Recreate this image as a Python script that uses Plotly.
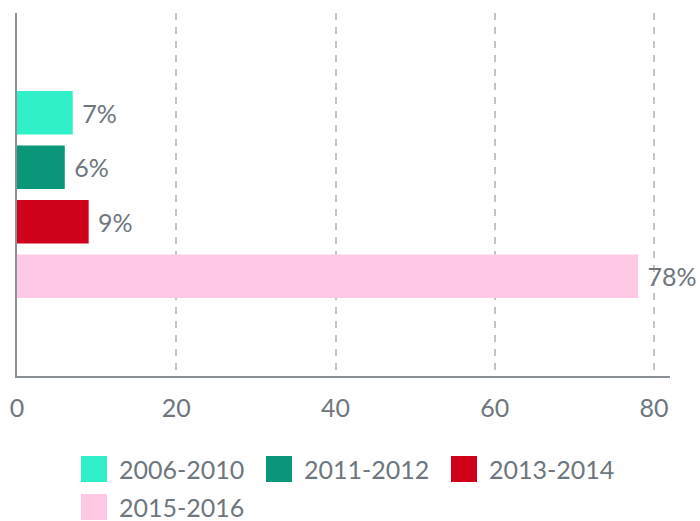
import plotly.graph_objects as go

# ---- data ----
periods = ["2006-2010", "2011-2012", "2013-2014", "2015-2016"]
shares = [7, 6, 9, 78]
category = ["Share"]
x_ticks = [0, 20, 40, 60, 80]
x_tick_labels = ["0", "20", "40", "60", "80"]

colors = ["#30F0CA", "#0A9678", "#D0021B", "#FFC9E5"]
text_color = "#6E767E"
axis_color = "#8B9096"
font_family = "Lato, 'Open Sans', sans-serif"

W, H = 700, 521
ML, MR, MT, MB = 17, 30, 13, 145
PW, PH = W - ML - MR, H - MT - MB

fig = go.Figure()
for name, val, col in zip(periods, shares, colors):
    fig.add_trace(go.Bar(
        y=category, x=[val], name=name, orientation="h",
        marker=dict(color=col, line=dict(width=0)),
        texttemplate="\u00a0%{x}%", textposition="outside",
        constraintext="none", cliponaxis=False,
        textfont=dict(family=font_family, size=25, color=text_color),
        showlegend=False, hoverinfo="x+name",
    ))

# manual legend (large square swatches like the reference)
def px_x(p):
    return (p - ML) / PW

def px_y(p):
    return (MT + PH - p) / PH

legend_items = [(81, 469), (266, 469), (451, 469), (81, 507)]
shapes = []
annotations = []
for (lx, ly), name, col in zip(legend_items, periods, colors):
    shapes.append(dict(type="rect", xref="paper", yref="paper",
                       x0=px_x(lx), x1=px_x(lx + 26),
                       y0=px_y(ly - 13), y1=px_y(ly + 13),
                       fillcolor=col, line=dict(width=0), layer="above"))
    annotations.append(dict(xref="paper", yref="paper", x=px_x(lx + 36), y=px_y(ly),
                            xanchor="left", yanchor="middle", showarrow=False,
                            text=name, font=dict(family=font_family, size=25, color=text_color)))

fig.update_layout(
    width=W, height=H,
    margin=dict(l=ML, r=MR, t=MT, b=MB, pad=0, autoexpand=False),
    barmode="group", bargap=0.40, bargroupgap=0.2,
    plot_bgcolor="white", paper_bgcolor="white",
    font=dict(family=font_family, color=text_color),
    showlegend=False,
    shapes=shapes, annotations=annotations,
    xaxis=dict(range=[0, 82], tickvals=x_ticks, ticktext=x_tick_labels, ticks="", showgrid=True,
               gridcolor="#C4C4C4", gridwidth=1.5, griddash="7px,7px",
               zeroline=False, showline=True, linecolor=axis_color, linewidth=2,
               tickfont=dict(family=font_family, size=25, color=text_color),
               ticklabelstandoff=9, fixedrange=True, automargin=False),
    yaxis=dict(autorange="reversed", showticklabels=False, ticks="", showgrid=False,
               zeroline=False, showline=True, linecolor=axis_color, linewidth=2,
               fixedrange=True, automargin=False),
)

fig.write_html("out.html", config={"displayModeBar": False},
               post_script="document.body.style.margin='0';document.body.style.overflow='hidden';")
